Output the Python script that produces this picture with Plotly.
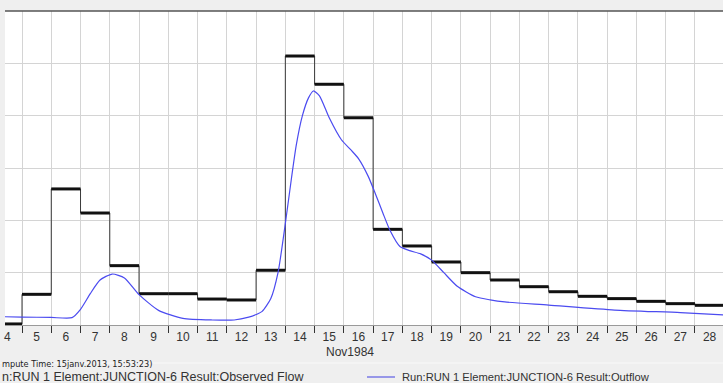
import plotly.graph_objects as go
from datetime import datetime, timedelta

# Observed flow: daily values (step series), one per day starting Nov 4
obs_days = [f"1984-11-{d:02d}" for d in range(4, 29)]
obs_flow = [1, 29.3, 130, 107, 56.7, 29.9, 29.9, 24.8, 23.9, 52.3,
            257, 230, 198, 91.4, 75.5, 60.2, 50,
            43, 36.6, 31.8, 27.4, 25.2, 22.6, 20.4, 18.8]

# Simulated outflow
out_time = ["1984-11-04 10:00", "1984-11-05 00:00", "1984-11-06 00:00", "1984-11-06 17:00",
            "1984-11-07 00:00", "1984-11-07 08:00", "1984-11-07 16:00", "1984-11-08 02:00",
            "1984-11-08 12:00", "1984-11-09 00:00", "1984-11-09 16:00", "1984-11-10 12:00",
            "1984-11-11 12:00", "1984-11-12 06:00", "1984-11-12 18:00", "1984-11-13 00:00",
            "1984-11-13 05:00", "1984-11-13 12:00", "1984-11-13 18:00", "1984-11-14 00:00",
            "1984-11-14 05:00", "1984-11-14 09:00", "1984-11-14 14:00", "1984-11-14 19:00",
            "1984-11-14 23:00", "1984-11-15 04:00", "1984-11-15 12:00", "1984-11-15 22:00",
            "1984-11-16 06:00", "1984-11-16 12:00", "1984-11-16 20:00", "1984-11-17 02:00",
            "1984-11-17 08:00", "1984-11-17 14:00", "1984-11-17 22:00", "1984-11-18 06:00",
            "1984-11-18 15:00", "1984-11-19 00:00", "1984-11-19 10:00", "1984-11-19 21:00",
            "1984-11-20 12:00", "1984-11-21 00:00", "1984-11-21 12:00", "1984-11-23 00:00",
            "1984-11-25 06:00", "1984-11-27 12:00", "1984-11-29 00:00"]
out_flow = [7.9, 7.6, 7.2, 7.0,
            15, 30, 43, 48.7,
            45, 29, 14, 6.4,
            4.8, 4.8, 7.5, 10,
            13, 25, 50, 97,
            140, 172, 200, 217,
            223.6, 219, 198, 177,
            167, 159, 142, 125,
            107, 90, 75, 71,
            68, 62, 50, 37,
            27, 24, 22, 19,
            14.3, 11.8, 9.6]

x_start = "1984-11-04 10:03"
x_end = "1984-11-28 23:00"

def nxt(d):
    return (datetime.strptime(d, "%Y-%m-%d") + timedelta(days=1)).strftime("%Y-%m-%d")

# thick horizontal segments of the observed series
seg_x, seg_y = [], []
for d, v in zip(obs_days, obs_flow):
    seg_x += [d, nxt(d), None]
    seg_y += [v, v, None]

fig = go.Figure()
fig.add_trace(go.Scatter(
    x=obs_days + [nxt(obs_days[-1])], y=obs_flow + [obs_flow[-1]],
    mode="lines", line=dict(color="#3a3a3a", width=1, shape="hv"),
    name="Run:RUN 1 Element:JUNCTION-6 Result:Observed Flow", showlegend=False))
fig.add_trace(go.Scatter(
    x=seg_x, y=seg_y, mode="lines", line=dict(color="#111111", width=3),
    showlegend=False, hoverinfo="skip"))
fig.add_trace(go.Scatter(
    x=out_time, y=out_flow, mode="lines",
    line=dict(color="#4b4bf0", width=1.2, shape="spline", smoothing=0.6),
    name="Run:RUN 1 Element:JUNCTION-6 Result:Outflow", showlegend=False))

font_fam = "Liberation Sans, Arial, sans-serif"

fig.update_layout(
    width=723, height=383,
    margin=dict(l=5, r=0, t=11, b=58),
    paper_bgcolor="#efefef", plot_bgcolor="#ffffff",
    font=dict(family=font_fam, size=12, color="#333333"),
    xaxis=dict(
        type="date", range=[x_start, x_end],
        tick0="1984-11-05", dtick=86400000, ticklabelmode="period",
        tickformat="%-d", ticks="outside", ticklen=7, tickcolor="#333333",
        ticklabelstandoff=-6,
        showgrid=True, gridcolor="#d4d4d4", gridwidth=1,
        showline=True, linecolor="#9a9a9a", linewidth=1,
        zeroline=False, tickfont=dict(size=12, color="#333333"),
    ),
    yaxis=dict(
        range=[0, 300], dtick=50, showticklabels=False, ticks="",
        showgrid=True, gridcolor="#d4d4d4", gridwidth=1, zeroline=False,
    ),
    shapes=[
        dict(type="line", xref="paper", yref="paper", x0=0, x1=1, y0=1, y1=1,
             line=dict(color="#555555", width=1.5)),
        dict(type="line", xref="paper", yref="paper", x0=-0.01, x1=1,
             y0=-38/314, y1=-38/314, line=dict(color="#f9f9f9", width=1)),
        dict(type="line", xref="paper", yref="paper", x0=(367-5)/718, x1=(395-5)/718,
             y0=-52/314, y1=-52/314, line=dict(color="#7a7ae6", width=1.5)),
    ],
    annotations=[
        dict(text="Nov1984", xref="paper", yref="paper", x=(350-5)/718, y=-26.5/314,
             showarrow=False, xanchor="center", yanchor="middle",
             font=dict(size=12, color="#333333")),
        dict(text="mpute Time: 15janv.2013, 15:53:23)", xref="paper", yref="paper",
             x=-5/718, y=-38.5/314, showarrow=False, xanchor="left", yanchor="middle",
             font=dict(size=8.2, color="#222222", family="DejaVu Sans, sans-serif")),
        dict(text="n:RUN 1 Element:JUNCTION-6 Result:Observed Flow", xref="paper", yref="paper",
             x=-5/718, y=-52/314, showarrow=False, xanchor="left", yanchor="middle",
             font=dict(size=12.5, color="#333333")),
        dict(text="Run:RUN 1 Element:JUNCTION-6 Result:Outflow", xref="paper", yref="paper",
             x=(400-5)/718, y=-52/314, showarrow=False, xanchor="left", yanchor="middle",
             font=dict(size=11.2, color="#333333")),
    ],
)

fig.write_html("out.html", config={"displayModeBar": False},
               post_script="document.body.style.margin='0';document.body.style.overflow='hidden';")
